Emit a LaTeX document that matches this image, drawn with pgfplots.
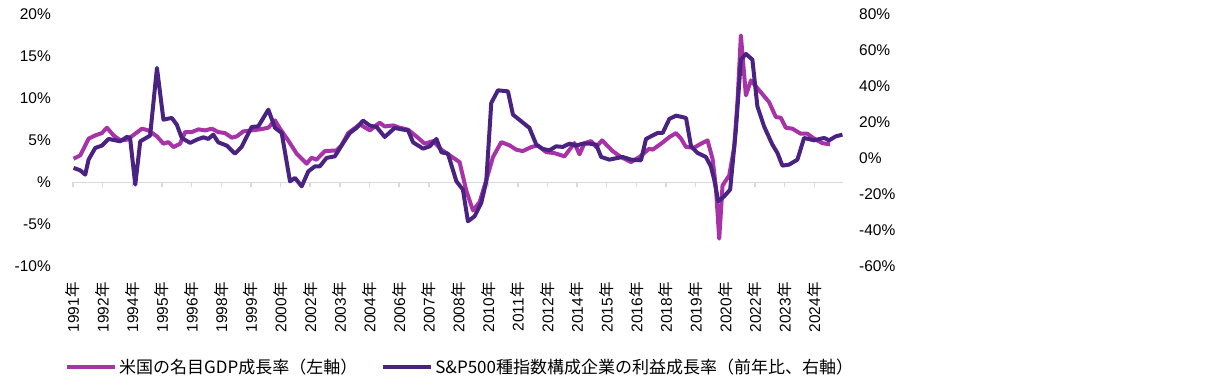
\documentclass[border=0pt]{standalone}
\usepackage{pgfplots}
\pgfplotsset{compat=1.18}
\usepackage{fontspec}
\setmainfont{Liberation Sans}
\newfontfamily\cjk{Noto Sans CJK JP}
\definecolor{gdp}{HTML}{A832A8}
\definecolor{spx}{HTML}{4A2382}
\definecolor{axgray}{HTML}{D9D9D9}
\newcommand\tf{\fontsize{15.5pt}{18pt}\selectfont}
\newcommand\nen{{\cjk 年}}
\pgfplotsset{base/.style={at={(73pt,118.7pt)}, anchor=south west, scale only axis,
  width=770pt, height=251.7pt, xmin=0, xmax=415.5}}
\begin{document}
\begin{tikzpicture}
\useasboundingbox (0,0) rectangle (1213pt,385pt);
% background zero line with ticks
\begin{axis}[base, ymin=-10, ymax=20, axis x line=middle, axis y line=none,
  xtick={0,16,...,400}, xticklabels={}, ytick=\empty,
  x axis line style={-, draw=axgray, line width=1.5pt},
  xtick align=outside, major tick length=5pt,
  every tick/.style={draw=axgray, line width=1.5pt}]
\addplot[draw=none] coordinates {(0,0)};
\end{axis}
% left axis: nominal GDP
\begin{axis}[base, ymin=-10, ymax=20, axis line style={draw=none},
  axis x line*=bottom, axis y line*=left,
  tick style={draw=none}, major tick length=0pt,
  xtick={0,16,...,400},
  xticklabels={1991\nen,1992\nen,1994\nen,1995\nen,1996\nen,1998\nen,1999\nen,2000\nen,2002\nen,2003\nen,2004\nen,2006\nen,2007\nen,2008\nen,2010\nen,2011\nen,2012\nen,2014\nen,2015\nen,2016\nen,2018\nen,2019\nen,2020\nen,2022\nen,2023\nen,2024\nen},
  ytick={-10,-5,0,5,10,15,20},
  yticklabels={-10\%,-5\%,\%,5\%,10\%,15\%,20\%},
  xticklabel style={rotate=90, anchor=east, inner sep=0pt, font=\tf},
  yticklabel style={anchor=east, inner sep=0pt, font=\tf},
  xticklabel shift=16pt, yticklabel shift=22pt]
\addplot[gdp, line width=4pt, line join=round] coordinates {
(0.3,2.82)(3.9,3.22)(8.4,5.21)(12.0,5.60)(15.6,5.88)(18.3,6.52)(21.9,5.60)(25.5,5.01)(29.1,5.09)(33.6,5.80)(37.2,6.40)(40.7,6.20)(45.3,5.48)(48.8,4.61)(51.5,4.80)(54.2,4.21)(57.8,4.61)(60.5,6.00)(64.1,6.00)(67.7,6.32)(71.3,6.20)(74.9,6.40)(78.4,6.00)(82.0,5.88)(85.7,5.33)(88.3,5.48)(91.9,6.08)(96.4,6.20)(100.9,6.32)(105.4,6.52)(109.0,7.39)(111.7,6.40)(116.1,5.01)(120.7,3.42)(126.1,2.23)(128.7,2.94)(131.4,2.71)(135.9,3.73)(142.2,3.81)(144.9,4.41)(148.5,5.88)(154.8,6.91)(160.2,6.20)(165.5,7.12)(168.2,6.67)(172.7,6.79)(176.3,6.52)(180.8,6.28)(185.3,5.48)(189.8,4.61)(194.3,4.92)(198.8,3.90)(203.3,3.22)(208.6,2.42)(212.2,-0.95)(215.8,-3.34)(219.4,-2.35)(223.0,0.24)(226.6,3.01)(231.1,4.80)(235.6,4.41)(239.2,3.90)(242.7,3.73)(247.3,4.21)(250.8,4.41)(255.3,3.61)(259.8,3.49)(265.2,3.10)(270.6,4.68)(273.3,3.34)(276.0,4.68)(279.6,4.92)(282.3,4.21)(285.5,5.01)(291.2,3.73)(295.7,3.02)(301.1,2.42)(305.6,3.02)(311.0,4.02)(312.8,3.90)(317.3,4.61)(321.8,5.40)(325.4,5.88)(328.1,5.21)(330.8,4.21)(335.2,4.14)(338.8,4.61)(342.4,5.01)(345.1,2.82)(346.9,-0.56)(348.7,-6.71)(350.5,-0.36)(354.1,0.83)(356.8,4.21)(358.6,9.77)(360.4,17.52)(363.1,10.37)(365.8,12.16)(370.3,10.97)(375.6,9.57)(379.3,7.78)(381.9,7.71)(384.6,6.52)(388.2,6.40)(392.7,5.80)(396.3,5.80)(399.9,5.21)(404.3,4.68)(408.5,4.53)
};
\end{axis}
% right axis: S&P500 earnings growth
\begin{axis}[base, ymin=-60, ymax=80, axis line style={draw=none},
  axis y line*=right, axis x line=none,
  tick style={draw=none}, major tick length=0pt,
  xtick=\empty,
  ytick={-60,-40,-20,0,20,40,60,80},
  yticklabels={-60\%,-40\%,-20\%,0\%,20\%,40\%,60\%,80\%},
  yticklabel style={anchor=west, inner sep=0pt, font=\tf},
  yticklabel shift=16pt,
  legend columns=2,
  legend image code/.code={\draw[#1] (0pt,0pt) -- (48pt,0pt);},
  legend style={at={(-0.0104,-0.399)}, anchor=west, draw=none, fill=none,
    inner sep=0pt, font=\cjk\fontsize{17pt}{20pt}\selectfont,
    nodes={inner sep=2pt}, cells={anchor=west},
    /tikz/every even column/.append style={column sep=22pt}}]
\addlegendimage{gdp, line width=4pt}
\addlegendentry{米国の名目GDP成長率（左軸）}
\addplot[spx, line width=4pt, line join=round] coordinates {
(0.3,-5.28)(3.9,-6.62)(6.6,-9.01)(8.4,-0.67)(12.0,5.84)(15.6,7.12)(19.2,10.85)(22.8,10.07)(25.5,9.51)(29.1,11.96)(30.8,11.40)(33.6,-14.57)(36.3,9.51)(41.6,12.68)(45.3,50.33)(48.8,21.58)(53.3,22.52)(56.0,18.80)(58.7,11.40)(63.2,8.62)(66.8,10.46)(70.4,11.74)(73.0,10.85)(75.7,13.24)(78.4,8.95)(83.0,7.12)(87.4,2.67)(91.0,6.40)(96.4,17.52)(100.0,17.85)(105.4,27.14)(109.0,16.96)(112.6,14.18)(117.1,-12.74)(119.8,-10.85)(123.4,-15.52)(127.0,-7.17)(130.6,-4.39)(133.2,-4.39)(136.8,0.28)(141.3,1.17)(145.8,8.62)(149.4,14.18)(153.0,16.96)(156.5,21.02)(160.2,18.24)(163.8,17.52)(168.2,11.96)(173.6,16.96)(178.1,16.02)(180.8,15.63)(183.5,8.95)(188.9,5.45)(192.5,6.73)(196.1,10.85)(198.8,3.39)(202.3,2.67)(206.9,-12.74)(210.4,-17.35)(213.1,-34.98)(216.7,-32.20)(220.3,-24.75)(223.0,-12.74)(225.7,30.87)(229.3,37.88)(234.7,37.32)(237.4,24.36)(241.9,20.63)(246.3,16.96)(250.0,7.68)(253.5,5.28)(257.1,4.51)(260.7,6.73)(264.3,6.40)(267.9,8.23)(271.5,7.12)(275.1,8.23)(278.7,8.23)(282.3,7.68)(285.0,0.83)(289.4,-0.67)(296.6,0.83)(301.1,-0.67)(306.5,-1.06)(309.2,10.85)(311.9,12.29)(315.5,14.18)(318.2,14.18)(321.8,21.97)(325.4,23.80)(330.8,22.52)(333.5,6.73)(337.0,3.06)(341.5,0.83)(344.2,-4.39)(346.0,-11.79)(348.2,-23.86)(351.4,-21.08)(354.6,-17.35)(357.7,16.02)(360.4,54.95)(363.1,58.12)(366.6,54.95)(369.3,28.98)(372.9,17.85)(377.4,7.68)(380.1,3.06)(382.8,-4.00)(386.4,-3.45)(390.9,-0.67)(394.5,11.40)(399.9,10.07)(405.3,11.40)(408.0,10.07)(411.6,12.29)(415.2,13.24)
};
\addlegendentry{S\&P500種指数構成企業の利益成長率（前年比、右軸）}
\end{axis}
\end{tikzpicture}
\end{document}
